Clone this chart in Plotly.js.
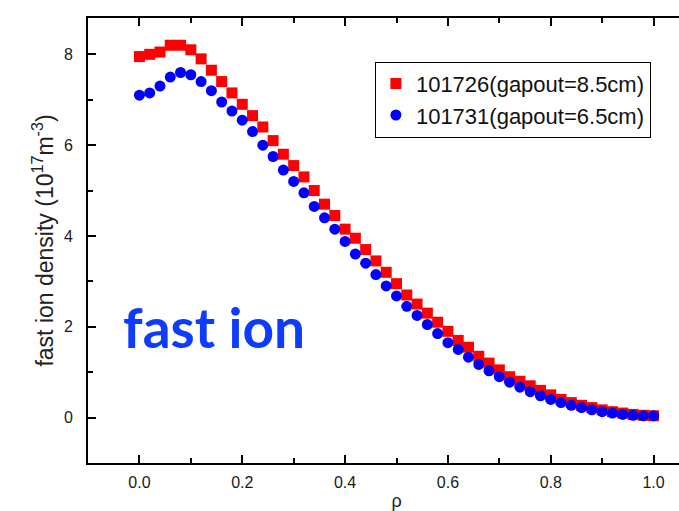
<!DOCTYPE html>
<html>
<head>
<meta charset="utf-8">
<script src="https://cdn.plot.ly/plotly-3.0.1.min.js"></script>
<style>
html,body{margin:0;padding:0;overflow:hidden;background:#fff;width:679px;height:511px;}
#chart{width:730px;height:511px;}
</style>
</head>
<body>
<div id="chart"></div>
<script>
const rho = [0.00,0.02,0.04,0.06,0.08,0.10,0.12,0.14,0.16,0.18,0.20,0.22,0.24,0.26,0.28,0.30,0.32,0.34,0.36,0.38,0.40,0.42,0.44,0.46,0.48,0.50,0.52,0.54,0.56,0.58,0.60,0.62,0.64,0.66,0.68,0.70,0.72,0.74,0.76,0.78,0.80,0.82,0.84,0.86,0.88,0.90,0.92,0.94,0.96,0.98,1.00];
const density101726 = [7.95,8.00,8.05,8.20,8.20,8.10,7.90,7.65,7.40,7.15,6.90,6.65,6.40,6.10,5.80,5.55,5.30,5.00,4.70,4.45,4.15,3.95,3.70,3.45,3.20,2.95,2.70,2.50,2.30,2.10,1.90,1.70,1.55,1.35,1.20,1.05,0.90,0.80,0.70,0.60,0.50,0.40,0.33,0.27,0.22,0.17,0.13,0.10,0.07,0.05,0.04];
const density101731 = [7.10,7.15,7.30,7.50,7.60,7.55,7.40,7.20,6.95,6.75,6.55,6.30,6.00,5.75,5.45,5.20,4.95,4.65,4.40,4.15,3.88,3.60,3.40,3.15,2.90,2.68,2.45,2.25,2.05,1.85,1.65,1.50,1.33,1.17,1.03,0.90,0.78,0.67,0.57,0.48,0.40,0.33,0.27,0.22,0.17,0.13,0.10,0.07,0.05,0.04,0.04];
const seriesNames = ['101726(gapout=8.5cm)','101731(gapout=6.5cm)'];
const xTicks = [0.0,0.2,0.4,0.6,0.8,1.0];
const xTickText = ['0.0','0.2','0.4','0.6','0.8','1.0'];
const yTicks = [0,2,4,6,8];

const traces = [
  {x: rho, y: density101726, name: seriesNames[0], type: 'scatter', mode: 'markers',
   marker: {symbol: 'square', size: 11, color: '#ff0000'}},
  {x: rho, y: density101731, name: seriesNames[1], type: 'scatter', mode: 'markers',
   marker: {symbol: 'circle', size: 11, color: '#0000ff'}}
];

const axisCommon = {
  showgrid: false, zeroline: false, showline: true, linecolor: '#000', linewidth: 2,
  mirror: 'allticks', ticks: 'inside', ticklen: 8, tickwidth: 2, tickcolor: '#000',
  tickfont: {family: 'Liberation Sans, Arial, sans-serif', size: 16, color: '#1a1a1a'}
};

const layout = {
  width: 730, height: 511,
  margin: {l: 88, r: 25, t: 18, b: 48},
  paper_bgcolor: '#fff', plot_bgcolor: '#fff',
  showlegend: true,
  legend: {x: 0.465, y: 0.902, xanchor: 'left', yanchor: 'top',
    bordercolor: '#000', borderwidth: 1, bgcolor: '#fff',
    font: {family: 'Liberation Sans, Arial, sans-serif', size: 22, color: '#111'},
    itemwidth: 30, tracegroupgap: 0},
  xaxis: Object.assign({}, axisCommon, {
    range: [-0.1, 1.1], tickvals: xTicks, ticktext: xTickText, ticklabelstandoff: 4,
    minor: {dtick: 0.1, ticks: 'inside', ticklen: 5, tickwidth: 2, tickcolor: '#000'},
    title: {text: 'ρ', standoff: 4, font: {family: 'Liberation Sans, Arial, sans-serif', size: 18, color: '#222'}}
  }),
  yaxis: Object.assign({}, axisCommon, {
    range: [-1, 8.8], tickvals: yTicks, ticklabelstandoff: 10,
    minor: {dtick: 1, ticks: 'inside', ticklen: 5, tickwidth: 2, tickcolor: '#000'},
    title: {text: 'fast ion density (10<sup>17</sup>m<sup>-3</sup>)', standoff: 4,
      font: {family: 'Liberation Sans, Arial, sans-serif', size: 23, color: '#222'}}
  }),
  annotations: [{
    text: '<b>fast ion</b>', xref: 'x', yref: 'y', x: -0.035, y: 2.0,
    xanchor: 'left', yanchor: 'middle', showarrow: false,
    font: {family: 'Lato, Liberation Sans, Arial, sans-serif', size: 55, color: '#0d3cff'}
  }]
};

Plotly.newPlot('chart', traces, layout, {displayModeBar: false, staticPlot: true});
</script>
</body>
</html>
